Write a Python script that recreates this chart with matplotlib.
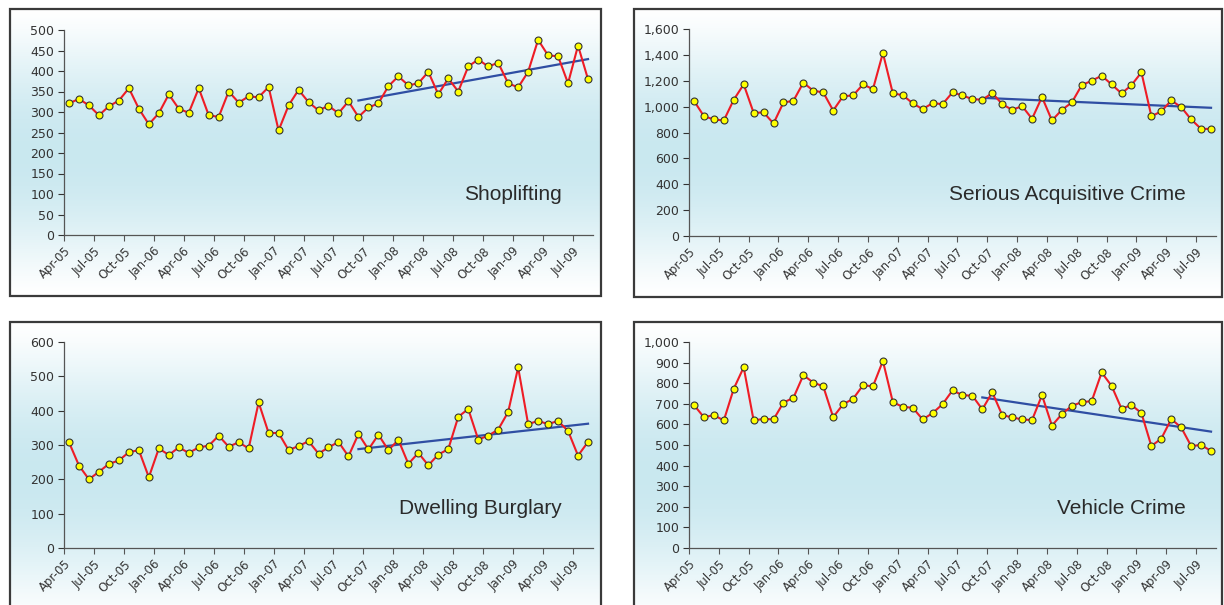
import matplotlib
matplotlib.use('Agg')
import matplotlib.pyplot as plt
from matplotlib.patches import Rectangle
from matplotlib.ticker import FuncFormatter
import numpy as np

# monthly counts, Apr-05 .. Aug-09
shoplifting = [321, 332, 316, 292, 314, 328, 358, 308, 270, 297, 343, 308, 298,
               358, 292, 288, 350, 323, 338, 336, 361, 255, 316, 354, 324, 304,
               315, 297, 326, 288, 311, 321, 363, 387, 365, 370, 398, 343, 382,
               350, 411, 428, 411, 420, 370, 360, 398, 476, 438, 436, 370, 462, 380]
serious_acq = [1045, 926, 901, 893, 1053, 1172, 952, 955, 870, 1032, 1045, 1185,
               1123, 1110, 970, 1081, 1086, 1172, 1135, 1414, 1102, 1089, 1025, 981,
               1027, 1019, 1110, 1086, 1058, 1053, 1105, 1019, 975, 1004, 906, 1074,
               893, 975, 1032, 1166, 1200, 1239, 1172, 1102, 1166, 1265, 926, 963,
               1048, 996, 901, 828, 828]
burglary = [308, 240, 200, 222, 245, 255, 279, 285, 206, 290, 271, 293, 277, 293,
            298, 327, 295, 308, 290, 424, 335, 335, 285, 297, 311, 275, 293, 309,
            267, 332, 287, 330, 285, 315, 245, 277, 241, 272, 288, 382, 405, 316,
            327, 345, 396, 526, 361, 370, 361, 370, 341, 269, 309]
vehicle = [694, 635, 645, 619, 773, 877, 619, 627, 624, 706, 729, 839, 803, 785,
           635, 698, 724, 790, 785, 908, 708, 685, 681, 624, 655, 698, 765, 742,
           739, 673, 756, 645, 634, 624, 621, 742, 594, 650, 690, 708, 713, 852,
           787, 676, 694, 655, 495, 531, 626, 585, 495, 500, 471]

# trend lines (Sep-07 .. Aug-09), start and end values
trend_start = [328, 1068, 288, 731]
trend_end = [429, 991, 362, 565]
trend_from = 29

tick_labels = ['Apr-05', 'Jul-05', 'Oct-05', 'Jan-06', 'Apr-06', 'Jul-06',
               'Oct-06', 'Jan-07', 'Apr-07', 'Jul-07', 'Oct-07', 'Jan-08',
               'Apr-08', 'Jul-08', 'Oct-08', 'Jan-09', 'Apr-09', 'Jul-09']

names = ['Shoplifting', 'Serious Acquisitive Crime', 'Dwelling Burglary', 'Vehicle Crime']
series = [shoplifting, serious_acq, burglary, vehicle]
ymax = [500, 1600, 600, 1000]
ystep = [50, 200, 100, 100]

W, H = 1224, 605
fig = plt.figure(figsize=(W / 100, H / 100), dpi=100)

def frac(x0, y0, x1, y1):
    return [x0 / W, 1 - y1 / H, (x1 - x0) / W, (y1 - y0) / H]

boxes = [(10, 9, 601, 296), (634, 9, 1222, 297), (10, 322, 601, 625), (634, 322, 1222, 625)]
plots = [(64, 30, 593, 235), (689, 29, 1216, 236), (64, 342, 593, 548), (689, 342, 1216, 548)]
label_pos = [(562, 194), (1186, 194), (562, 508), (1186, 508)]

# vertical gradient: white -> light blue -> white
t = np.linspace(0, 1, 256)
w = np.sin(np.pi * t) ** 1.3
blue = np.array([0.79, 0.91, 0.94])
grad = 1 - w[:, None] * (1 - blue[None, :])
grad = grad[:, None, :]

fmt = FuncFormatter(lambda v, p: f'{int(v):,}')

for i in range(4):
    bg = fig.add_axes(frac(*boxes[i]))
    bg.imshow(grad, aspect='auto', extent=[0, 1, 0, 1])
    bg.set_axis_off()
    bg.add_patch(Rectangle((0, 0), 1, 1, transform=bg.transAxes, fill=False,
                           edgecolor='#3a3a3a', linewidth=1.6, clip_on=False))

    ax = fig.add_axes(frac(*plots[i]))
    ax.patch.set_alpha(0)
    vals = series[i]
    x = np.arange(len(vals))
    ax.plot(x, vals, color='#ee1c25', linewidth=1.5, marker='o', markersize=5,
            markerfacecolor='#ffff00', markeredgecolor='#333333', markeredgewidth=0.8,
            zorder=3)
    ax.plot([trend_from, len(vals) - 1], [trend_start[i], trend_end[i]],
            color='#2f4ea3', linewidth=1.6, zorder=2)

    ax.set_xlim(-0.5, len(vals) - 0.5)
    ax.set_ylim(0, ymax[i])
    ax.set_yticks(np.arange(0, ymax[i] + 1, ystep[i]))
    ax.yaxis.set_major_formatter(fmt)
    ticks = np.arange(len(tick_labels)) * 3 - 0.5
    ax.set_xticks(ticks)
    ax.set_xticklabels(tick_labels, rotation=45, ha='right', rotation_mode='anchor',
                       fontsize=8.5, color='#333333')
    ax.tick_params(axis='y', labelsize=9, colors='#333333', length=4, width=0.8, pad=3)
    ax.tick_params(axis='x', length=4, width=0.8, color='#555555', pad=3)
    for s in ['top', 'right']:
        ax.spines[s].set_visible(False)
    for s in ['left', 'bottom']:
        ax.spines[s].set_color('#555555')
        ax.spines[s].set_linewidth(0.9)

    lx, ly = label_pos[i]
    fig.text(lx / W, 1 - ly / H, names[i], ha='right', va='center', fontsize=15,
             family='Liberation Sans', color='#2a2a2a')

fig.savefig('out.png', dpi=100)
